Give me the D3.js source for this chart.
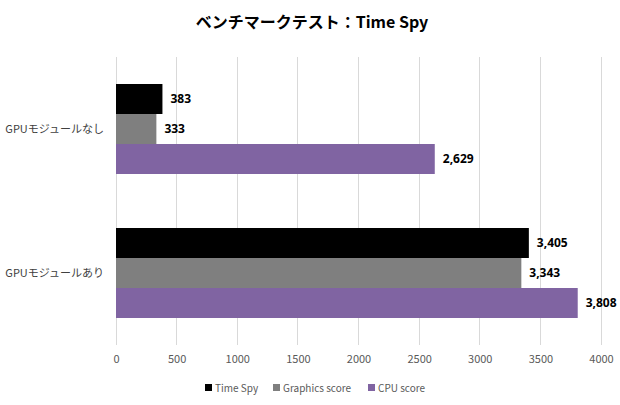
<!DOCTYPE html>
<html>
<head>
<meta charset="utf-8">
<script src="https://cdn.jsdelivr.net/npm/d3@7"></script>
<style>
  body { margin: 0; background: #fff; }
  svg { display: block; }
</style>
</head>
<body>
<svg id="chart"></svg>
<script>
// data
const categories = ["GPUモジュールなし", "GPUモジュールあり"];
const seriesNames = ["Time Spy", "Graphics score", "CPU score"];
const timeSpy = [383, 3405];
const graphicsScore = [333, 3343];
const cpuScore = [2629, 3808];
const xTicks = [0, 500, 1000, 1500, 2000, 2500, 3000, 3500, 4000];
const colors = ["#000000", "#7f7f7f", "#8064a2"];

const seriesValues = [timeSpy, graphicsScore, cpuScore];

const width = 620, height = 405;
const margin = { top: 57, right: 19, bottom: 60, left: 116 };
const innerW = width - margin.left - margin.right;
const innerH = height - margin.top - margin.bottom;

const svg = d3.select("#chart")
  .attr("width", width)
  .attr("height", height);

// title
svg.append("text")
  .attr("x", 312)
  .attr("y", 28)
  .attr("text-anchor", "middle")
  .style("font-family", "'Noto Sans CJK JP', 'Noto Sans', sans-serif")
  .style("font-weight", "bold")
  .style("font-size", "16px")
  .style("fill", "#000")
  .text("ベンチマークテスト：Time Spy");

const g = svg.append("g")
  .attr("transform", `translate(${margin.left},${margin.top})`);

// scales
const x = d3.scaleLinear().domain([0, 4000]).range([0, 485]);
const y0 = d3.scaleBand().domain(categories).range([0, innerH]).paddingInner(0.375).paddingOuter(0.1875);
const y1 = d3.scaleBand().domain(seriesNames).range([0, y0.bandwidth()]);

// grid
g.append("g")
  .selectAll("line")
  .data(xTicks)
  .join("line")
  .attr("x1", d => x(d))
  .attr("x2", d => x(d))
  .attr("y1", 0)
  .attr("y2", innerH)
  .attr("stroke", "#d9d9d9")
  .attr("stroke-width", 1)
  .attr("shape-rendering", "crispEdges");

// x axis labels
const xAxis = d3.axisBottom(x).tickValues(xTicks).tickSize(0).tickPadding(10).tickFormat(d => d);
g.append("g")
  .attr("transform", `translate(0,${innerH})`)
  .call(xAxis)
  .call(a => a.select(".domain").remove())
  .call(a => a.selectAll("text")
    .style("font-family", "'Noto Sans CJK JP', 'Noto Sans', sans-serif")
    .style("font-size", "11px")
    .style("fill", "#595959"));

// y axis labels
const yAxis = d3.axisLeft(y0).tickSize(0).tickPadding(12);
g.append("g")
  .call(yAxis)
  .call(a => a.select(".domain").remove())
  .call(a => a.selectAll("text")
    .style("font-family", "'Noto Sans CJK JP', 'Noto Sans', sans-serif")
    .style("font-size", "11px")
    .style("fill", "#404040"));

// bars
const rows = [];
categories.forEach((c, ci) => {
  seriesNames.forEach((s, si) => {
    rows.push({ cat: c, series: s, value: seriesValues[si][ci], color: colors[si] });
  });
});

g.append("g")
  .selectAll("rect")
  .data(rows)
  .join("rect")
  .attr("x", 0)
  .attr("y", d => y0(d.cat) + y1(d.series))
  .attr("width", d => x(d.value))
  .attr("height", y1.bandwidth())
  .attr("fill", d => d.color);

// value labels
g.append("g")
  .selectAll("text")
  .data(rows)
  .join("text")
  .attr("x", d => x(d.value) + 8)
  .attr("y", d => y0(d.cat) + y1(d.series) + y1.bandwidth() / 2)
  .attr("dy", "0.35em")
  .style("font-family", "'Noto Sans', 'Liberation Sans', sans-serif")
  .style("font-weight", "bold")
  .style("font-size", "12px")
  .style("fill", "#000")
  .text(d => d3.format(",")(d.value));

// legend
const legendX = [205, 273, 368];
const legend = svg.append("g").attr("transform", `translate(0,388)`);
const items = legend.selectAll("g")
  .data(seriesNames)
  .join("g")
  .attr("transform", (d, i) => `translate(${legendX[i]},0)`);
items.append("rect")
  .attr("x", 0)
  .attr("y", -4)
  .attr("width", 7)
  .attr("height", 7)
  .attr("fill", (d, i) => colors[i]);
items.append("text")
  .attr("x", 10)
  .attr("y", 0)
  .attr("dy", "0.35em")
  .style("font-family", "'Noto Sans CJK JP', 'Noto Sans', sans-serif")
  .style("font-size", "10px")
  .style("fill", "#595959")
  .text(d => d);
</script>
</body>
</html>
